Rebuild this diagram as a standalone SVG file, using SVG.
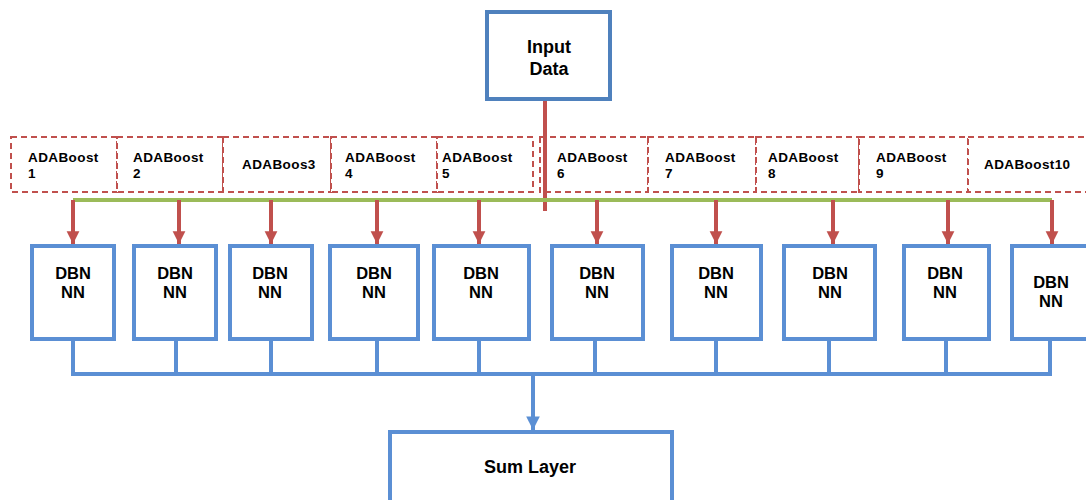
<svg xmlns="http://www.w3.org/2000/svg" width="1086" height="500" viewBox="0 0 1086 500">
<defs>
<style>
.ada{fill:#fff;stroke:#C0504D;stroke-width:2;stroke-dasharray:6 4}
.at{font-family:"Liberation Sans",Arial,sans-serif;font-weight:bold;font-size:13.5px;letter-spacing:0.4px;fill:#000}
.dbn{fill:#fff;stroke:#5B8FD4;stroke-width:4}
.dt{font-family:"Liberation Sans",Arial,sans-serif;font-weight:bold;font-size:16.5px;fill:#000;text-anchor:middle}
.bt{font-family:"Liberation Sans",Arial,sans-serif;font-weight:bold;font-size:18px;fill:#000;text-anchor:middle}
.red{stroke:#C0504D;stroke-width:4;fill:none}
.blue{stroke:#5B8FD4;stroke-width:4;fill:none}
</style>
<marker id="ra" viewBox="0 0 10 10" refX="10" refY="5" markerWidth="3.2" markerHeight="3.8" markerUnits="strokeWidth" orient="auto"><path d="M0,0 L10,5 L0,10 z" fill="#C0504D"/></marker>
<marker id="ba" viewBox="0 0 10 10" refX="10" refY="5" markerWidth="3.4" markerHeight="3.8" markerUnits="strokeWidth" orient="auto"><path d="M0,0 L10,5 L0,10 z" fill="#5B8FD4"/></marker>
</defs>
<rect width="1086" height="500" fill="#fff"/>

<g id="ada1"><rect class="ada" x="11" y="137" width="106" height="55"/><text class="at" x="28" y="162">ADABoost</text><text class="at" x="28" y="178">1</text></g>
<g id="ada2"><rect class="ada" x="117" y="137" width="106" height="55"/><text class="at" x="133" y="162">ADABoost</text><text class="at" x="133" y="178">2</text></g>
<g id="ada3"><rect class="ada" x="223" y="137" width="108" height="55"/><text class="at" x="242" y="169">ADABoos3</text></g>
<g id="ada4"><rect class="ada" x="331" y="137" width="106" height="55"/><text class="at" x="345" y="162">ADABoost</text><text class="at" x="345" y="178">4</text></g>
<g id="ada5"><rect class="ada" x="437" y="137" width="96" height="55"/><text class="at" x="442" y="162">ADABoost</text><text class="at" x="442" y="178">5</text></g>
<g id="ada6"><rect class="ada" x="540" y="137" width="108" height="55"/><text class="at" x="557" y="162">ADABoost</text><text class="at" x="557" y="178">6</text></g>
<g id="ada7"><rect class="ada" x="648" y="137" width="108" height="55"/><text class="at" x="665" y="162">ADABoost</text><text class="at" x="665" y="178">7</text></g>
<g id="ada8"><rect class="ada" x="756" y="137" width="103" height="55"/><text class="at" x="768" y="162">ADABoost</text><text class="at" x="768" y="178">8</text></g>
<g id="ada9"><rect class="ada" x="859" y="137" width="109" height="55"/><text class="at" x="876" y="162">ADABoost</text><text class="at" x="876" y="178">9</text></g>
<g id="ada10"><rect class="ada" x="968" y="137" width="124" height="55"/><text class="at" x="984" y="169">ADABoost10</text></g>

<g id="connectors">
<line class="red" x1="545" y1="100" x2="545" y2="211" stroke-width="5"/>
<line x1="73" y1="200" x2="1052" y2="200" stroke="#9BBB59" stroke-width="4"/>
<g marker-end="url(#ra)" class="red">
<line x1="73" y1="200" x2="73" y2="244"/>
<line x1="179" y1="200" x2="179" y2="244"/>
<line x1="271" y1="200" x2="271" y2="244"/>
<line x1="377" y1="200" x2="377" y2="244"/>
<line x1="479" y1="200" x2="479" y2="244"/>
<line x1="597" y1="200" x2="597" y2="244"/>
<line x1="716" y1="200" x2="716" y2="244"/>
<line x1="833" y1="200" x2="833" y2="244"/>
<line x1="948" y1="200" x2="948" y2="244"/>
<line x1="1052" y1="200" x2="1052" y2="244"/>
</g>
<g class="blue">
<path d="M73,340 V374 M176,340 V374 M271,340 V374 M377,340 V374 M479,340 V374 M595,340 V374 M716,340 V374 M829,340 V374 M946,340 V374 M1050,340 V374"/>
<line x1="71" y1="374" x2="1052" y2="374"/>
</g>
<line class="blue" x1="533" y1="374" x2="533" y2="430" marker-end="url(#ba)"/>
</g>

<g id="input"><rect x="487" y="12" width="123" height="87" fill="#fff" stroke="#4F81BD" stroke-width="4"/><text class="bt" x="549" y="53">Input</text><text class="bt" x="549" y="75">Data</text></g>

<g id="dbn1"><rect class="dbn" x="32" y="246" width="82" height="93"/><text class="dt" x="73" y="279">DBN</text><text class="dt" x="73" y="298">NN</text></g>
<g id="dbn2"><rect class="dbn" x="134" y="246" width="82" height="93"/><text class="dt" x="175" y="279">DBN</text><text class="dt" x="175" y="298">NN</text></g>
<g id="dbn3"><rect class="dbn" x="230" y="246" width="82" height="93"/><text class="dt" x="270" y="279">DBN</text><text class="dt" x="270" y="298">NN</text></g>
<g id="dbn4"><rect class="dbn" x="330" y="246" width="88" height="93"/><text class="dt" x="374" y="279">DBN</text><text class="dt" x="374" y="298">NN</text></g>
<g id="dbn5"><rect class="dbn" x="434" y="246" width="95" height="93"/><text class="dt" x="481" y="279">DBN</text><text class="dt" x="481" y="298">NN</text></g>
<g id="dbn6"><rect class="dbn" x="552" y="246" width="91" height="93"/><text class="dt" x="597" y="279">DBN</text><text class="dt" x="597" y="298">NN</text></g>
<g id="dbn7"><rect class="dbn" x="672" y="246" width="89" height="93"/><text class="dt" x="716" y="279">DBN</text><text class="dt" x="716" y="298">NN</text></g>
<g id="dbn8"><rect class="dbn" x="784" y="246" width="91" height="93"/><text class="dt" x="830" y="279">DBN</text><text class="dt" x="830" y="298">NN</text></g>
<g id="dbn9"><rect class="dbn" x="904" y="246" width="85" height="93"/><text class="dt" x="945" y="279">DBN</text><text class="dt" x="945" y="298">NN</text></g>
<g id="dbn10"><rect class="dbn" x="1012" y="246" width="84" height="93"/><text class="dt" x="1051" y="288">DBN</text><text class="dt" x="1051" y="307">NN</text></g>

<g id="sum"><rect x="390" y="432" width="282" height="80" fill="#fff" stroke="#5B8FD4" stroke-width="4"/><text class="bt" x="530" y="473">Sum Layer</text></g>
</svg>
